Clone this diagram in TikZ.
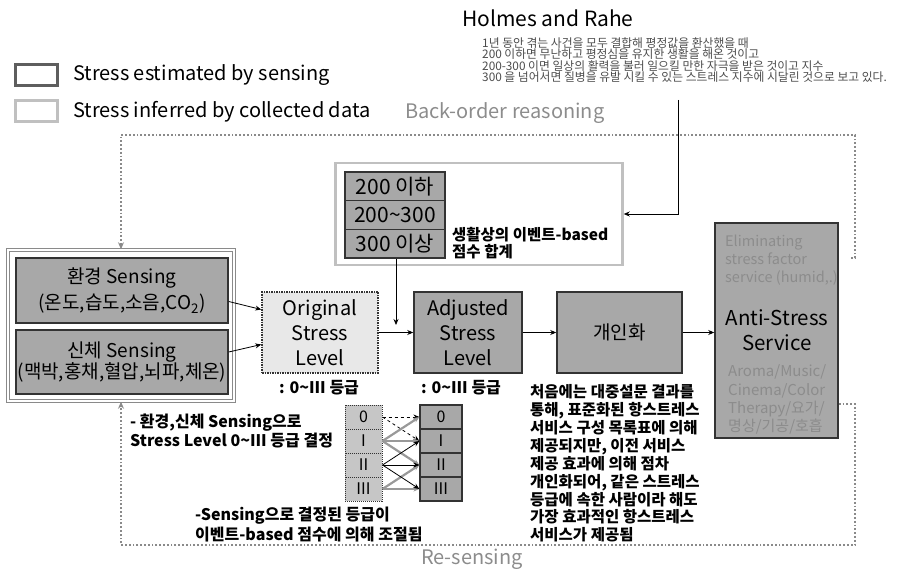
\documentclass[tikz,border=0pt]{standalone}
\usepackage{fontspec}
\setmainfont{Noto Sans CJK KR}
\usetikzlibrary{arrows.meta}
\definecolor{boxgray}{HTML}{A8A8A8}
\definecolor{boxline}{HTML}{333333}
\definecolor{lightfill}{HTML}{E8E8E8}
\definecolor{cellfill}{HTML}{C6C6C6}
\definecolor{dotgray}{HTML}{8A8A8A}
\definecolor{textgray}{HTML}{8C8C8C}
\definecolor{framegray}{HTML}{C0C0C0}
\definecolor{darkframe}{HTML}{5E5E5E}
\newcommand{\fsz}[2]{\fontsize{#1}{#2}\selectfont}
\newcommand{\tld}{{\char"7E}}
\tikzset{
  levelbox/.style={draw=boxline, line width=1.5, fill=boxgray, align=center, inner sep=0},
  origbox/.style={draw=boxline, densely dotted, line width=1.5, fill=lightfill, align=center, inner sep=0},
  gradecell/.style={draw=boxline, densely dotted, line width=1, fill=cellfill, minimum width=37, minimum height=24, inner sep=0},
  scorecell/.style={levelbox, minimum width=100, minimum height=28.7, font=\fsz{21}{24}},
  flow/.style={-{Stealth[length=6,width=5]}, line width=0.8},
  loopline/.style={dotgray, dotted, line width=1.8, -{Stealth[length=7,width=6]}},
  note/.style={anchor=west, align=left, inner sep=0}
}
\begin{document}
\begin{tikzpicture}[x=1pt,y=-1pt]
  \useasboundingbox (0,0) rectangle (897,569);
  % legend
  \node[draw=darkframe, line width=3, minimum width=42, minimum height=21] (keydark) at (36,75.5) {};
  \node[draw=framegray, line width=3, minimum width=42, minimum height=21] (keylight) at (36,111) {};
  \node[note, font=\fsz{20}{24}] (keydarktxt) at (73,75) {Stress estimated by sensing};
  \node[note, font=\fsz{20}{24}] (keylighttxt) at (73,112) {Stress inferred by collected data};
  \node[note, font=\fsz{20}{24}, textgray] (backlabel) at (405,113) {Back-order reasoning};

  % Holmes and Rahe
  \node[note, font=\fsz{21}{24}] (holmes) at (462,18) {Holmes and Rahe};
  \node[note, font=\fsz{11.8}{11.5}, text=black!70] (holmesnote) at (482,60) {1년 동안 겪는 사건을 모두 결합해 평정값을 환산했을 때\\
    200 이하면 무난하고 평정심을 유지한 생활을 해온 것이고\\
    200-300 이면 일상의 활력을 불러 일으킬 만한 자극을 받은 것이고 지수\\
    300 을 넘어서면 질병을 유발 시킬 수 있는 스트레스 지수에 시달린 것으로 보고 있다.};

  % event-based score
  \node[draw=framegray, line width=2.5, minimum width=287, minimum height=102] (score) at (479,214) {};
  \node[scorecell] (s1) at (395,186.3) {200 이하};
  \node[scorecell] (s2) at (395,215) {200\tld300};
  \node[scorecell] (s3) at (395,243.7) {300 이상};
  \node[note, font=\fsz{15.5}{16.5}\bfseries] (eventsum) at (452,243) {생활상의 이벤트-based\\점수 합계};
  \coordinate (hdrop) at (678,100);
  \draw[flow] (hdrop) |- (score.east);
  \coordinate (sdrop) at (396,325);
  \draw[flow] (s3.south -| sdrop) -- (sdrop);

  % sensing
  \node[draw=dotgray, line width=1.5, double=white, double distance=1.5, minimum width=226, minimum height=151] (sensegroup) at (121,325.5) {};
  \node[levelbox, minimum width=212, minimum height=65, font=\fsz{19}{26}] (env) at (122,290.5) {환경 Sensing\\(온도,습도,소음,CO\textsubscript{2})};
  \node[levelbox, minimum width=212, minimum height=64, font=\fsz{19}{21}] (body) at (122,362) {신체 Sensing\\(맥박,홍채,혈압,뇌파,체온)};

  % stress levels
  \node[origbox, minimum width=116, minimum height=81, font=\fsz{20}{25}] (orig) at (320,332.5) {Original\\Stress\\Level};
  \node[levelbox, minimum width=108, minimum height=81, font=\fsz{20}{25}] (adj) at (468,332.5) {Adjusted\\Stress\\Level};
  \node[levelbox, minimum width=125, minimum height=81, font=\fsz{19}{24}] (pers) at (619.5,332.5) {개인화};
  \node[levelbox, minimum width=123, minimum height=215] (anti) at (776.5,330.5) {};
  \node[font=\fsz{20.5}{25}, align=center] (antitxt) at (777,330.5) {Anti-Stress\\Service};
  \node[note, font=\fsz{14.5}{18}, text=textgray] (elim) at (725,260) {Eliminating\\stress factor\\service (humid,.)};
  \node[note, font=\fsz{15}{18.2}, text=textgray] (aroma) at (728,399.5) {Aroma/Music/\\Cinema/Color\\Therapy/요가/\\명상/기공/호흡};

  \draw[flow] ([yshift=-11]env.east) -- ([yshift=23]orig.west);
  \draw[flow] ([yshift=10]body.east) -- ([yshift=-12]orig.west);
  \draw[flow] (orig) -- (adj);
  \draw[flow] (adj) -- (pers);
  \draw[flow] (pers) -- (pers -| anti.west);

  \node[font=\fsz{16}{20}\bfseries] (origgrade) at (319,388) {: 0\tld III 등급};
  \node[font=\fsz{16}{20}\bfseries] (adjgrade) at (461,388) {: 0\tld III 등급};

  % grade adjustment
  \foreach \i/\g in {0/0,1/I,2/II,3/III} {
    \node[gradecell, font=\fsz{16}{20}] (lc\i) at (363.5,417+24*\i) {\g};
    \node[levelbox, line width=1.2, minimum width=42, minimum height=24, font=\fsz{16}{20}] (rc\i) at (441,417+24*\i) {\g};
  }
  \foreach \j in {0,1}
    \draw[flow, dashed] (lc0.east) -- (rc\j.west);
  \foreach \j in {0,1,2}
    \draw[flow, gray!80, line width=2.2] (lc1.east) -- (rc\j.west);
  \foreach \j in {2,3}
    \draw[flow, gray!80, line width=2.2] (lc3.east) -- (rc\j.west);
  \foreach \j in {1,2,3}
    \draw[flow] (lc2.east) -- (rc\j.west);

  % notes
  \node[note, font=\fsz{16}{18.5}\bfseries] (sensenote) at (130,431) {- 환경,신체 Sensing으로\\Stress Level 0\tld III 등급 결정};
  \node[note, font=\fsz{16}{20}\bfseries] (adjnote) at (195,525) {-Sensing으로 결정된 등급이\\이벤트-based 점수에 의해 조절됨};
  \node[note, font=\fsz{15.5}{17.9}\bfseries] (persnote) at (530,463.5) {처음에는 대중설문 결과를\\통해, 표준화된 항스트레스\\서비스 구성 목록표에 의해\\제공되지만, 이전 서비스\\제공 효과에 의해 점차\\개인화되어, 같은 스트레스\\등급에 속한 사람이라 해도\\가장 효과적인 항스트레스\\서비스가 제공됨};

  % feedback loops
  \coordinate (backstart) at (851,258);
  \coordinate (backR) at (855,135);
  \coordinate (backL) at (121,135);
  \draw[loopline] (backstart) -| (backR) -- (backL) -- (sensegroup.north);
  \coordinate (reR) at (855,545);
  \draw[loopline] (anti.east |- 0,404) -| (reR) -| (sensegroup.south);
  \node[font=\fsz{20}{24}, text=textgray] (resense) at (472,559) {Re-sensing};
\end{tikzpicture}
\end{document}
